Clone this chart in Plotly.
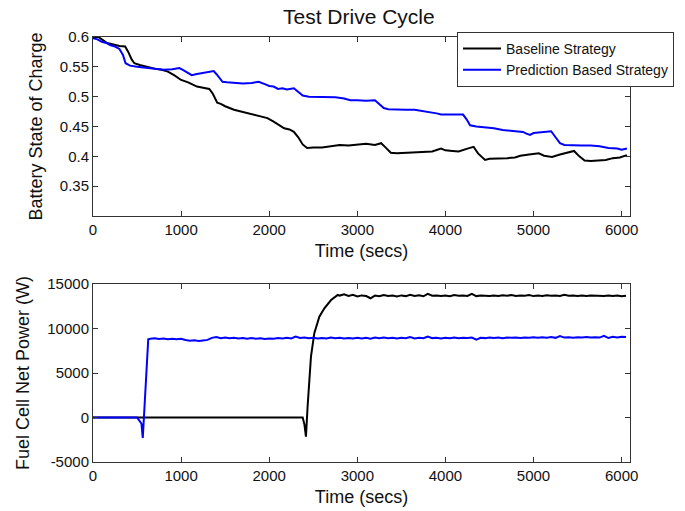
import plotly.graph_objects as go

# ---------------- Top: Battery state of charge ----------------
soc_base_t = [0, 60, 100, 160, 220, 300, 365, 400, 440, 470, 530, 600, 700, 780, 850, 920,
              1000, 1080, 1180, 1250, 1320, 1360, 1410, 1450, 1500, 1600, 1700, 1800, 1900,
              1980, 2050, 2120, 2170, 2230, 2280, 2330, 2380, 2430, 2500, 2600, 2700, 2800,
              2900, 3000, 3100, 3200, 3270, 3320, 3380, 3450, 3550, 3650, 3750, 3850, 3950,
              4000, 4080, 4150, 4250, 4320, 4370, 4420, 4450, 4500, 4600, 4700, 4790, 4850,
              4950, 5060, 5120, 5210, 5300, 5400, 5460, 5520, 5580, 5650, 5750, 5820, 5900,
              5980, 6060]
soc_base = [0.600, 0.600, 0.596, 0.590, 0.588, 0.585, 0.584, 0.575, 0.562, 0.556, 0.553,
            0.550, 0.547, 0.545, 0.542, 0.536, 0.528, 0.524, 0.517, 0.515, 0.513, 0.505,
            0.490, 0.488, 0.484, 0.478, 0.474, 0.470, 0.466, 0.464, 0.458, 0.452, 0.447,
            0.445, 0.441, 0.432, 0.420, 0.414, 0.415, 0.415, 0.417, 0.419, 0.418, 0.419,
            0.421, 0.419, 0.422, 0.415, 0.406, 0.405, 0.406, 0.406, 0.407, 0.408, 0.413,
            0.410, 0.409, 0.408, 0.413, 0.416, 0.405, 0.397, 0.394, 0.396, 0.396, 0.397,
            0.398, 0.401, 0.403, 0.405, 0.401, 0.399, 0.403, 0.407, 0.409, 0.400, 0.393,
            0.392, 0.393, 0.394, 0.397, 0.398, 0.402]

soc_pred_t = [0, 50, 100, 150, 200, 250, 300, 340, 370, 420, 500, 600, 700, 800, 900, 980,
              1020, 1080, 1120, 1180, 1250, 1300, 1370, 1400, 1440, 1470, 1520, 1600, 1700,
              1800, 1880, 1950, 2000, 2050, 2100, 2150, 2200, 2280, 2330, 2380, 2450, 2550,
              2650, 2750, 2850, 2920, 3000, 3100, 3200, 3250, 3300, 3350, 3450, 3550, 3650,
              3750, 3850, 3900, 3950, 4000, 4100, 4200, 4240, 4280, 4350, 4450, 4550, 4650,
              4720, 4800, 4880, 4920, 4960, 5000, 5100, 5200, 5250, 5300, 5350, 5450, 5550,
              5650, 5750, 5850, 5950, 6000, 6060]
soc_pred = [0.598, 0.596, 0.592, 0.590, 0.586, 0.584, 0.580, 0.570, 0.556, 0.552, 0.550,
            0.548, 0.546, 0.545, 0.546, 0.548, 0.545, 0.540, 0.536, 0.538, 0.540, 0.541,
            0.543, 0.538, 0.530, 0.525, 0.524, 0.523, 0.522, 0.523, 0.525, 0.521, 0.518,
            0.517, 0.513, 0.514, 0.512, 0.514, 0.508, 0.502, 0.500, 0.500, 0.500, 0.499,
            0.497, 0.494, 0.494, 0.493, 0.494, 0.488, 0.481, 0.479, 0.478, 0.478, 0.478,
            0.476, 0.474, 0.472, 0.470, 0.470, 0.471, 0.470, 0.462, 0.452, 0.450, 0.449,
            0.447, 0.444, 0.443, 0.442, 0.441, 0.438, 0.436, 0.439, 0.440, 0.442, 0.432,
            0.422, 0.419, 0.418, 0.418, 0.418, 0.417, 0.414, 0.413, 0.411, 0.413]

# ---------------- Bottom: Fuel cell net power ----------------
pw_base_t = [0, 300, 500, 800, 1000, 1300, 1500, 1800, 2000, 2200, 2380, 2400, 2417, 2436,
             2474, 2512, 2569, 2626, 2702, 2778,
             2800, 2850, 2900, 2950, 3000, 3050, 3100, 3150, 3200, 3250, 3300, 3350, 3400,
             3450, 3500, 3550, 3600, 3650, 3700, 3750, 3800, 3850, 3900, 3950, 4000, 4050,
             4100, 4150, 4200, 4250, 4300, 4350, 4400, 4450, 4500, 4550, 4600, 4650, 4700,
             4750, 4800, 4850, 4900, 4950, 5000, 5050, 5100, 5150, 5200, 5250, 5300, 5350,
             5400, 5450, 5500, 5550, 5600, 5650, 5700, 5750, 5800, 5850, 5900, 5950, 6000,
             6050]
pw_base = [0, 0, 30, -40, 0, 40, -30, 20, 0, -20, 0, -800, -2150, 1270,
           6850, 9470, 11330, 12270, 13200, 13770,
           13700, 13850, 13650, 13780, 13600, 13720, 13650, 13400, 13700, 13620, 13760,
           13650, 13700, 13600, 13720, 13640, 13800, 13650, 13740, 13620, 13900, 13680,
           13720, 13650, 13700, 13620, 13750, 13680, 13720, 13660, 13900, 13640, 13720,
           13680, 13640, 13700, 13660, 13740, 13680, 13760, 13650, 13720, 13680, 13750,
           13640, 13700, 13660, 13740, 13680, 13720, 13650, 13800, 13690, 13720, 13660,
           13700, 13650, 13720, 13670, 13700, 13640, 13720, 13660, 13700, 13620, 13680]

pw_pred_t = [0, 200, 400, 500, 530, 550, 565, 580, 600, 627,
             650, 700, 750, 800, 850, 900, 950, 1000, 1050, 1100, 1150, 1200, 1250, 1300,
             1350, 1400, 1450, 1500, 1550, 1600, 1650, 1700, 1750, 1800, 1850, 1900, 1950,
             2000, 2050, 2100, 2150, 2200, 2250, 2300, 2350, 2400, 2450, 2500, 2550, 2600,
             2650, 2700, 2750, 2800, 2850, 2900, 2950, 3000, 3050, 3100, 3150, 3200, 3250,
             3300, 3350, 3400, 3450, 3500, 3550, 3600, 3650, 3700, 3750, 3800, 3850, 3900,
             3950, 4000, 4050, 4100, 4150, 4200, 4250, 4300, 4350, 4400, 4450, 4500, 4550,
             4600, 4650, 4700, 4750, 4800, 4850, 4900, 4950, 5000, 5050, 5100, 5150, 5200,
             5250, 5300, 5350, 5400, 5450, 5500, 5550, 5600, 5650, 5700, 5750, 5800, 5850,
             5900, 5950, 6000, 6050]
pw_pred = [0, 0, 0, 0, -400, -700, -2300, 800, 4500, 8800,
           8850, 8900, 8820, 8880, 8800, 8860, 8780, 8840, 8700, 8620, 8680, 8600, 8660,
           8720, 8950, 9050, 8920, 8980, 8900, 8960, 8880, 8940, 8860, 8920, 8850, 8900,
           8830, 8890, 8850, 8920, 8870, 8960, 8890, 9100, 8930, 8980, 8900, 8960, 8880,
           8940, 8870, 8990, 8900, 8950, 8880, 8930, 8870, 8960, 8890, 8950, 8860, 8990,
           8920, 8980, 8900, 8950, 8870, 8960, 8900, 9050, 8880, 8970, 8900, 9100, 8920,
           8960, 8890, 8970, 8920, 8990, 8900, 8960, 8930, 8980, 8750, 8960, 8920, 8990,
           8940, 8980, 8920, 9000, 8950, 8990, 8930, 9000, 8960, 9030, 8950, 9010, 8970,
           9040, 8950, 9150, 8980, 9030, 8970, 9020, 8980, 9040, 8990, 9030, 8980, 9180,
           8930, 9060, 9000, 9080, 9050]

soc_ticks = [0.35, 0.4, 0.45, 0.5, 0.55, 0.6]
soc_ticktext = ["0.35", "0.4", "0.45", "0.5", "0.55", "0.6"]
pw_ticks = [-5000, 0, 5000, 10000, 15000]
pw_ticktext = ["-5000", "0", "5000", "10000", "15000"]
time_ticks = [0, 1000, 2000, 3000, 4000, 5000, 6000]

FONT = "Liberation Sans, Arial, sans-serif"
AX = "#333333"
BLUE = "#0000ff"
BLACK = "#000000"

fig = go.Figure()
fig.add_trace(go.Scatter(x=soc_base_t, y=soc_base, mode="lines", name="Baseline Strategy",
                         line=dict(color=BLACK, width=2), xaxis="x", yaxis="y"))
fig.add_trace(go.Scatter(x=soc_pred_t, y=soc_pred, mode="lines", name="Prediction Based Strategy",
                         line=dict(color=BLUE, width=2), xaxis="x", yaxis="y"))
fig.add_trace(go.Scatter(x=pw_base_t, y=pw_base, mode="lines", showlegend=False,
                         line=dict(color=BLACK, width=2), xaxis="x2", yaxis="y2"))
fig.add_trace(go.Scatter(x=pw_pred_t, y=pw_pred, mode="lines", showlegend=False,
                         line=dict(color=BLUE, width=2), xaxis="x2", yaxis="y2"))

axis_common = dict(showline=True, linecolor=AX, linewidth=1, mirror="ticks", ticks="inside",
                   ticklen=5, tickcolor=AX, showgrid=False, zeroline=False, automargin=False,
                   tickfont=dict(family=FONT, size=15, color="#111111"))

fig.update_layout(
    width=685, height=511,
    margin=dict(l=93, r=54, t=37, b=49),
    paper_bgcolor="white", plot_bgcolor="white",
    font=dict(family=FONT, color="#111111"),
    title=dict(text="Test Drive Cycle", x=0.495, xref="paper", xanchor="center",
               y=1 - 17 / 511, yref="container", yanchor="middle",
               font=dict(family=FONT, size=21, color="#111111")),
    xaxis=dict(domain=[0, 1], range=[0, 6095], tickvals=time_ticks, anchor="y",
               title=dict(text="Time (secs)", font=dict(family=FONT, size=18), standoff=7),
               **axis_common),
    yaxis=dict(domain=[0.5788, 1], range=[0.3, 0.6], tickvals=soc_ticks, ticktext=soc_ticktext,
               anchor="x",
               title=dict(text="Battery State of Charge", font=dict(family=FONT, size=18), standoff=12),
               **axis_common),
    xaxis2=dict(domain=[0, 1], range=[0, 6095], tickvals=time_ticks, anchor="y2",
                title=dict(text="Time (secs)", font=dict(family=FONT, size=18), standoff=7),
                **axis_common),
    yaxis2=dict(domain=[0, 0.4188], range=[-5000, 15000], tickvals=pw_ticks, ticktext=pw_ticktext,
                anchor="x2",
                title=dict(text="Fuel Cell Net Power (W)", font=dict(family=FONT, size=18), standoff=12),
                **axis_common),
    legend=dict(x=0.6766, y=1.0118, xanchor="left", yanchor="top", xref="paper", yref="paper",
                bgcolor="white", bordercolor=AX, borderwidth=1,
                font=dict(family=FONT, size=14, color="#111111"),
                tracegroupgap=0, itemwidth=38),
    showlegend=True,
)

fig.write_html("out.html")
